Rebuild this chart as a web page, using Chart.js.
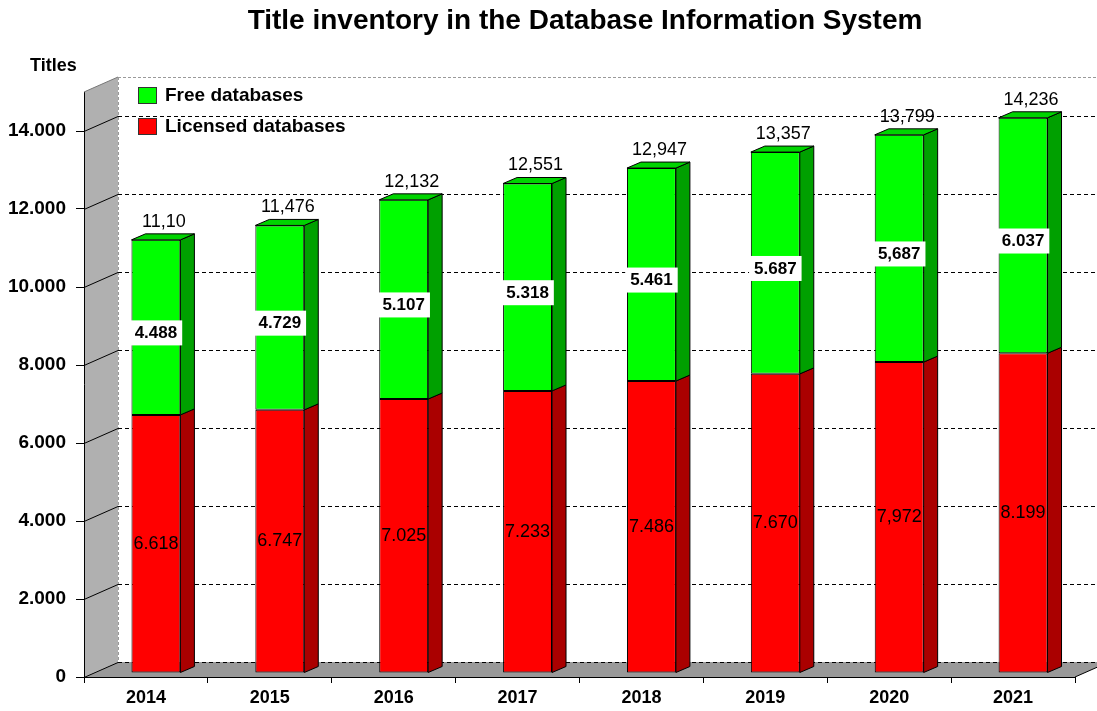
<!DOCTYPE html>
<html>
<head>
<meta charset="utf-8">
<title>Title inventory</title>
<script src="https://cdn.jsdelivr.net/npm/chart.js@4.4.1/dist/chart.umd.min.js"></script>
<style>
    html, body { margin: 0; padding: 0; background: #fff; }
    #wrap { width: 1097px; height: 711px; }
</style>
</head>
<body>
<div id="wrap"><canvas id="inventory-chart"></canvas></div>
<script>
const years = ["2014", "2015", "2016", "2017", "2018", "2019", "2020", "2021"];
const licensed = [6618, 6747, 7025, 7233, 7486, 7670, 7972, 8199];
const free = [4488, 4729, 5107, 5318, 5461, 5687, 5827, 6037];

// labels as printed on the picture
const licensedLabels = ["6.618", "6.747", "7.025", "7.233", "7.486", "7.670", "7,972", "8.199"];
const freeLabels = ["4.488", "4.729", "5.107", "5.318", "5.461", "5.687", "5,687", "6.037"];
const totalLabels = ["11,10", "11,476", "12,132", "12,551", "12,947", "13,357", "13,799", "14,236"];

const yTicks = [0, 2000, 4000, 6000, 8000, 10000, 12000, 14000];
const yTickLabels = ["0", "2.000", "4.000", "6.000", "8.000", "10.000", "12.000", "14.000"];
const yMax = 15000;

const FONT = "'Liberation Sans', Arial, sans-serif";

// depth of the walls and of the bars
const WX = 34, WY = -15;
const BX = 10, BY = -4;
const DX = 14, DY = -6;

const sideColors = ["#aa0000", "#00a000"];
const topColors = ["#dd0000", "#00d400"];

function poly(ctx, pts, fill, stroke) {
    ctx.beginPath();
    ctx.moveTo(pts[0][0], pts[0][1]);
    for (let i = 1; i < pts.length; i++) ctx.lineTo(pts[i][0], pts[i][1]);
    ctx.closePath();
    if (fill) { ctx.fillStyle = fill; ctx.fill(); }
    if (stroke) { ctx.strokeStyle = stroke; ctx.lineWidth = 1; ctx.stroke(); }
}

function line(ctx, x1, y1, x2, y2, color, dash) {
    ctx.beginPath();
    ctx.setLineDash(dash || []);
    ctx.strokeStyle = color;
    ctx.lineWidth = 1;
    ctx.moveTo(x1, y1);
    ctx.lineTo(x2, y2);
    ctx.stroke();
    ctx.setLineDash([]);
}

const threeD = {
    id: "threeD",
    beforeDatasetsDraw(chart) {
        const { ctx, chartArea: a, scales: { y } } = chart;
        const W = chart.width;
        ctx.save();

        // side wall and floor
        poly(ctx, [[a.left, a.top], [a.left + WX, a.top + WY], [a.left + WX, a.bottom + WY], [a.left, a.bottom]], "#b0b0b0");
        poly(ctx, [[a.left, a.bottom], [a.right, a.bottom], [a.right + WX, a.bottom + WY], [a.left + WX, a.bottom + WY]], "#999999");

        // back wall edges
        line(ctx, a.left + WX + 0.5, a.top + WY, a.left + WX + 0.5, a.bottom + WY, "#9a9a9a", [3, 2]);
        line(ctx, a.left + WX, a.top + WY + 0.5, W, a.top + WY + 0.5, "#9a9a9a", [3, 2]);

        // grid lines
        yTicks.forEach(v => {
            const yy = Math.round(y.getPixelForValue(v)) + 0.5;
            line(ctx, a.left, yy, a.left + WX, yy + WY, "#000");
            line(ctx, a.left + WX, yy + WY, W, yy + WY, "#000", [4, 3]);
        });
        line(ctx, a.right, a.bottom, a.right + WX, a.bottom + WY, "#000");
        line(ctx, a.left + 0.5, a.top, a.left + 0.5, a.bottom, "#000");
        line(ctx, a.left, a.top, a.left + WX, a.top + WY, "#777");

        ctx.restore();
        ctx.save();
        ctx.translate(BX, BY);
    },
    afterDatasetsDraw(chart) {
        const ctx = chart.ctx;
        const last = chart.data.datasets.length - 1;

        chart.data.datasets.forEach((ds, di) => {
            chart.getDatasetMeta(di).data.forEach(el => {
                const p = el.getProps(["x", "y", "base", "width"], true);
                const l = p.x - p.width / 2, r = p.x + p.width / 2;
                poly(ctx, [[r, p.y], [r + DX, p.y + DY], [r + DX, p.base + DY], [r, p.base]], sideColors[di], "#000");
                if (di === last) {
                    poly(ctx, [[l, p.y], [l + DX, p.y + DY], [r + DX, p.y + DY], [r, p.y]], topColors[di], "#000");
                }
            });
        });
        ctx.restore();

        // value labels
        ctx.save();
        ctx.textAlign = "center";
        ctx.textBaseline = "middle";
        chart.getDatasetMeta(0).data.forEach((el, i) => {
            const p = el.getProps(["x", "y", "base"], true);
            ctx.font = "18px " + FONT;
            ctx.fillStyle = "#000";
            ctx.fillText(licensedLabels[i], p.x + BX, (p.y + p.base) / 2 + BY);
        });
        chart.getDatasetMeta(1).data.forEach((el, i) => {
            const p = el.getProps(["x", "y", "base"], true);
            const cx = p.x + BX, cy = (p.y + p.base) / 2 + BY + 5;
            ctx.font = "bold 17px " + FONT;
            const w = ctx.measureText(freeLabels[i]).width + 10;
            ctx.fillStyle = "#fff";
            ctx.fillRect(cx - w / 2, cy - 12, w, 25);
            ctx.fillStyle = "#000";
            ctx.fillText(freeLabels[i], cx, cy + 1);

            ctx.font = "18px " + FONT;
            ctx.fillText(totalLabels[i], cx + 8, p.y + BY - 18);
        });
        ctx.restore();
    },
    afterDraw(chart) {
        const ctx = chart.ctx;
        ctx.save();
        ctx.fillStyle = "#000";
        ctx.textBaseline = "middle";

        ctx.textAlign = "center";
        ctx.font = "bold 28px " + FONT;
        ctx.fillText("Title inventory in the Database Information System", 585, 21);

        ctx.textAlign = "left";
        ctx.font = "bold 18px " + FONT;
        ctx.fillText("Titles", 30, 66);

        // legend: top dataset first
        const order = [1, 0];
        order.forEach((di, k) => {
            const ds = chart.data.datasets[di];
            const top = 87 + k * 31;
            ctx.fillStyle = ds.backgroundColor;
            ctx.fillRect(138.5, top + 0.5, 18, 16);
            ctx.strokeStyle = "#333";
            ctx.lineWidth = 1;
            ctx.strokeRect(138.5, top + 0.5, 18, 16);
            ctx.fillStyle = "#000";
            ctx.font = "bold 19px " + FONT;
            ctx.fillText(ds.label, 165, top + 9);
        });
        ctx.restore();
    }
};

new Chart(document.getElementById("inventory-chart"), {
    type: "bar",
    data: {
        labels: years,
        datasets: [{
            label: "Licensed databases",
            data: licensed,
            backgroundColor: "#ff0000",
            borderColor: "#000",
            borderWidth: 1,
            borderSkipped: false,
            clip: false
        }, {
            label: "Free databases",
            data: free,
            backgroundColor: "#00ff00",
            borderColor: "#000",
            borderWidth: 1,
            borderSkipped: false,
            clip: false
        }]
    },
    options: {
        responsive: true,
        maintainAspectRatio: false,
        animation: false,
        layout: { padding: { top: 92, right: 22, left: 0, bottom: 0 } },
        datasets: {
            bar: { categoryPercentage: 1, barPercentage: 0.395 }
        },
        plugins: {
            legend: { display: false },
            title: { display: false },
            tooltip: { enabled: false }
        },
        scales: {
            x: {
                stacked: true,
                afterFit: s => { s.height = 34; },
                ticks: {
                    color: "#000",
                    padding: 4,
                    font: { family: FONT, size: 18, weight: "bold" }
                },
                grid: { drawOnChartArea: false, tickLength: 6, color: "#000", offset: true },
                border: { color: "#000" }
            },
            y: {
                stacked: true,
                min: 0,
                max: yMax,
                afterBuildTicks: s => { s.ticks = yTicks.map(v => ({ value: v })); },
                afterFit: s => { s.width = 84; },
                ticks: {
                    color: "#000",
                    padding: 10,
                    font: { family: FONT, size: 19, weight: "bold" },
                    callback: (v, i) => yTickLabels[i]
                },
                grid: { drawOnChartArea: false, tickLength: 8, color: "#000" },
                border: { color: "#000" }
            }
        }
    },
    plugins: [threeD]
});
</script>
</body>
</html>
